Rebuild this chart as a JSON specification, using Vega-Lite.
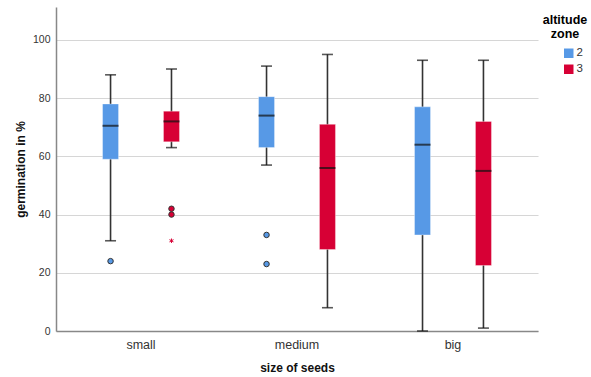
{
  "$schema": "https://vega.github.io/schema/vega-lite/v6.json",
  "width": 482,
  "height": 324,
  "autosize": "none",
  "padding": {"left": 56, "top": 7, "right": 53, "bottom": 46},
  "background": "white",
  "config": {
    "font": "Liberation Sans",
    "view": {"stroke": null},
    "axis": {"labelColor": "#333333", "titleColor": "#111111", "labelFontSize": 10.5, "titleFontSize": 12, "titleFontWeight": "bold", "domainColor": "#888888", "domainWidth": 1.5, "ticks": false}
  },
  "datasets": {
    "boxes": [
      {"size": "small", "zone": "2", "lower": 31, "q1": 59, "median": 70.5, "q3": 78, "upper": 88},
      {"size": "small", "zone": "3", "lower": 63, "q1": 65, "median": 72, "q3": 75.5, "upper": 90},
      {"size": "medium", "zone": "2", "lower": 57, "q1": 63, "median": 74, "q3": 80.5, "upper": 91},
      {"size": "medium", "zone": "3", "lower": 8, "q1": 28, "median": 56, "q3": 71, "upper": 95},
      {"size": "big", "zone": "2", "lower": 0, "q1": 33, "median": 64, "q3": 77, "upper": 93},
      {"size": "big", "zone": "3", "lower": 1, "q1": 22.5, "median": 55, "q3": 72, "upper": 93}
    ],
    "outliers": [
      {"size": "small", "zone": "2", "value": 24},
      {"size": "small", "zone": "3", "value": 42},
      {"size": "small", "zone": "3", "value": 40},
      {"size": "medium", "zone": "2", "value": 33},
      {"size": "medium", "zone": "2", "value": 23}
    ],
    "extremes": [
      {"size": "small", "zone": "3", "value": 31}
    ]
  },
  "encoding": {
    "x": {"field": "size", "type": "nominal", "sort": ["small", "medium", "big"],
      "scale": {"paddingInner": 0, "paddingOuter": 0.045},
      "axis": {"labelAngle": 0, "title": "size of seeds", "labelPadding": 7, "titlePadding": 12, "labelFontSize": 12.5, "grid": false}},
    "xOffset": {"field": "zone", "type": "nominal", "scale": {"paddingInner": 0, "paddingOuter": 0.28}},
    "color": {"field": "zone", "type": "nominal",
      "scale": {"domain": ["2", "3"], "range": ["#5799E6", "#D70035"]},
      "legend": {"title": ["altitude", "zone"], "orient": "none", "legendX": 487, "legendY": 7, "titleFontSize": 12.5, "titleFontWeight": "bold", "titleAlign": "center", "titleAnchor": "middle", "titleLineHeight": 14, "titlePadding": 7, "symbolOffset": 16, "symbolType": "square", "symbolSize": 90, "symbolStrokeWidth": 0, "labelFontSize": 11.5, "labelColor": "#333333", "rowPadding": 3, "labelOffset": 2}}
  },
  "layer": [
    {
      "data": {"name": "boxes"},
      "mark": {"type": "rule", "color": "#333333", "strokeWidth": 1.6},
      "encoding": {
        "y": {"field": "lower", "type": "quantitative", "scale": {"domain": [0, 111.3], "nice": false},
          "axis": {"title": "germination in %", "values": [0, 20, 40, 60, 80, 100], "grid": true, "gridColor": "#d6d6d6", "gridWidth": 1.2, "labelPadding": 6, "titlePadding": 5}},
        "y2": {"field": "upper"},
        "color": {"value": "#333333"}
      }
    },
    {
      "data": {"name": "boxes"},
      "mark": {"type": "tick", "color": "#111111", "size": 11, "thickness": 1.6},
      "encoding": {"y": {"field": "upper", "type": "quantitative"}, "color": {"value": "#111111"}}
    },
    {
      "data": {"name": "boxes"},
      "mark": {"type": "tick", "color": "#111111", "size": 11, "thickness": 1.6},
      "encoding": {"y": {"field": "lower", "type": "quantitative"}, "color": {"value": "#111111"}}
    },
    {
      "data": {"name": "boxes"},
      "mark": {"type": "bar", "size": 16, "opacity": 1, "strokeWidth": 1, "strokeOpacity": 0.35, "stroke": "white"},
      "encoding": {"y": {"field": "q1", "type": "quantitative"}, "y2": {"field": "q3"}}
    },
    {
      "data": {"name": "boxes"},
      "mark": {"type": "tick", "size": 16, "thickness": 2},
      "encoding": {"y": {"field": "median", "type": "quantitative"}, "color": {"value": "#111111"}}
    },
    {
      "data": {"name": "outliers"},
      "mark": {"type": "point", "shape": "circle", "filled": true, "size": 30, "stroke": "#333333", "strokeWidth": 1, "opacity": 1},
      "encoding": {"y": {"field": "value", "type": "quantitative"}}
    },
    {
      "data": {"name": "extremes"},
      "mark": {"type": "point", "shape": "M0,-1L0,1M-0.9,-0.5L0.9,0.5M-0.9,0.5L0.9,-0.5", "filled": false, "size": 20, "strokeWidth": 1, "opacity": 1},
      "encoding": {"y": {"field": "value", "type": "quantitative"}, "stroke": {"value": "#D70035"}}
    }
  ]
}
